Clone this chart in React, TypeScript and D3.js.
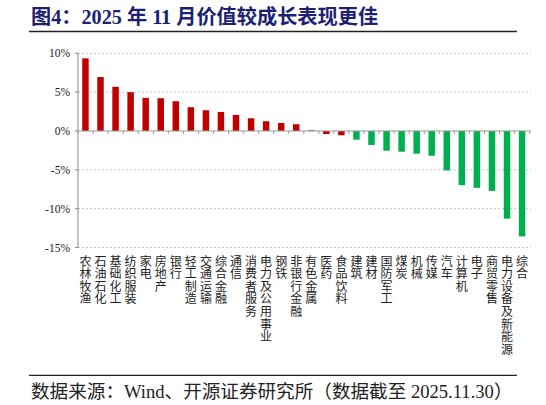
import React from 'react';
import * as d3 from 'd3';

const categories = [
  '农林牧渔', '石油石化', '基础化工', '纺织服装', '家电', '房地产', '银行', '轻工制造',
  '交通运输', '综合金融', '通信', '消费者服务', '电力及公用事业', '钢铁', '非银行金融',
  '有色金属', '医药', '食品饮料', '建筑', '建材', '国防军工', '煤炭', '机械', '传媒',
  '汽车', '计算机', '电子', '商贸零售', '电力设备及新能源', '综合',
];

// 11月涨跌幅 (%)
const returns = [
  9.35, 6.94, 5.69, 5.0, 4.26, 4.22, 3.83, 3.06, 2.67, 2.45, 2.07, 1.64, 1.25, 1.03, 0.87,
  0.1, -0.39, -0.55, -1.12, -1.8, -2.54, -2.67, -2.93, -3.19, -5.08, -6.98, -7.32, -7.71,
  -11.28, -13.57,
];

// first 18 bars are drawn red, the rest green
const redCount = 18;

const yTicks = [10, 5, 0, -5, -10, -15];

const title = '图4：2025 年 11 月价值较成长表现更佳';
const source = '数据来源：Wind、开源证券研究所（数据截至 2025.11.30）';

const FONT = '"Liberation Serif", "Noto Sans CJK SC", serif';

export default function App() {
  const width = 546;
  const height = 405;

  const x = d3.scaleBand<string>()
    .domain(categories)
    .range([78, 529.5])
    .paddingInner(0.57)
    .paddingOuter(0.28);

  const y = d3.scaleLinear().domain([-15, 10]).range([247.5, 53.3]);

  const step = x.step();
  const edges = d3.range(categories.length + 1).map(i => 78 + i * step);

  // one <text> per character so the labels read top to bottom
  const labelChars = categories.flatMap((c, i) =>
    Array.from(c).map((ch, j) => ({ key: `${i}-${j}`, ch, cat: c, j }))
  );

  return (
    <svg
      width={width}
      height={height}
      style={{ position: 'absolute', left: 0, top: 0, background: '#fff' }}
      fontFamily={FONT}
    >
      {/* title */}
      <text x={31} y={24} fontSize={20.2} fontWeight="bold" fill="#1c2173">
        {title}
      </text>
      <line x1={29} x2={517} y1={31.5} y2={31.5} stroke="#222" strokeWidth={1.3} />

      {/* grid */}
      {yTicks.filter(t => t !== 0).map(t => (
        <line
          key={t}
          x1={78}
          x2={531}
          y1={y(t)}
          y2={y(t)}
          stroke="#b5b5b5"
          strokeWidth={0.8}
          strokeDasharray="2,2"
        />
      ))}

      {/* y axis */}
      <line x1={78} x2={78} y1={y(10)} y2={y(-15)} stroke="#888" strokeWidth={1} />
      {yTicks.map(t => (
        <g key={t}>
          <line x1={75} x2={78} y1={y(t)} y2={y(t)} stroke="#888" />
          <text
            x={70}
            y={y(t)}
            dy="0.35em"
            textAnchor="end"
            fontSize={11.5}
            fill="#222"
          >
            {t}%
          </text>
        </g>
      ))}

      {/* bars */}
      {categories.map((c, i) => {
        const v = returns[i];
        return (
          <rect
            key={c}
            x={x(c)}
            width={x.bandwidth()}
            y={y(Math.max(0, v))}
            height={Math.abs(y(v) - y(0))}
            fill={i < redCount ? '#c00000' : '#00b050'}
          />
        );
      })}

      {/* zero line with ticks */}
      <line x1={78} x2={531} y1={y(0)} y2={y(0)} stroke="#999" strokeWidth={1} />
      {edges.map((ex, i) => (
        <line key={i} x1={ex} x2={ex} y1={y(0)} y2={y(0) + 3} stroke="#999" />
      ))}

      {/* category labels, vertical */}
      {labelChars.map(d => (
        <text
          key={d.key}
          x={(x(d.cat) as number) + x.bandwidth() / 2}
          y={265.5 + d.j * 12.6}
          fontSize={12}
          fill="#222"
          textAnchor="middle"
        >
          {d.ch}
        </text>
      ))}

      {/* source */}
      <line x1={29} x2={517} y1={375.3} y2={375.3} stroke="#222" strokeWidth={1.3} />
      <text x={31} y={398} fontSize={18.6} fill="#222">
        {source}
      </text>
    </svg>
  );
}
